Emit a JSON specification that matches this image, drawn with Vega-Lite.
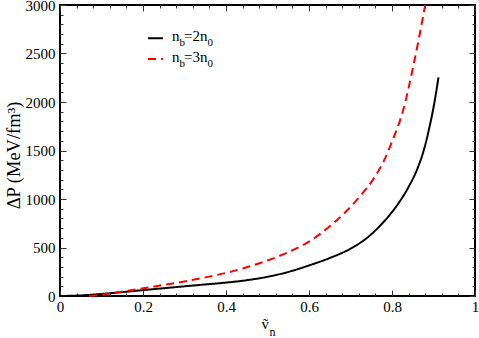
{
  "$schema": "https://vega.github.io/schema/vega-lite/v6.json",
  "width": 415,
  "height": 291,
  "autosize": {"type": "none"},
  "padding": {"left": 60, "top": 5, "right": 4, "bottom": 42},
  "background": "white",
  "config": {
    "font": "Times New Roman, Liberation Serif, DejaVu Serif, serif",
    "view": {"stroke": "black", "strokeWidth": 2},
    "text": {"font": "Times New Roman, Liberation Serif, DejaVu Serif, serif"},
    "axis": {"domain": false, "grid": false, "tickColor": "#333", "tickWidth": 1, "labelFont": "Times New Roman, Liberation Serif, DejaVu Serif, serif", "labelFontSize": 15, "labelColor": "black", "titleFont": "Times New Roman, Liberation Serif, DejaVu Serif, serif", "titleColor": "black", "titleFontWeight": "normal", "labelFlush": false, "labelOverlap": false}
  },
  "datasets": {
    "curves": [
      {"v": 0.0, "dP": 0, "series": "2n0"},
      {"v": 0.05, "dP": 6, "series": "2n0"},
      {"v": 0.1, "dP": 21, "series": "2n0"},
      {"v": 0.15, "dP": 40, "series": "2n0"},
      {"v": 0.2, "dP": 61, "series": "2n0"},
      {"v": 0.25, "dP": 80, "series": "2n0"},
      {"v": 0.3, "dP": 100, "series": "2n0"},
      {"v": 0.35, "dP": 119, "series": "2n0"},
      {"v": 0.4, "dP": 138, "series": "2n0"},
      {"v": 0.45, "dP": 163, "series": "2n0"},
      {"v": 0.5, "dP": 198, "series": "2n0"},
      {"v": 0.55, "dP": 248, "series": "2n0"},
      {"v": 0.6, "dP": 315, "series": "2n0"},
      {"v": 0.65, "dP": 392, "series": "2n0"},
      {"v": 0.7, "dP": 488, "series": "2n0"},
      {"v": 0.74, "dP": 600, "series": "2n0"},
      {"v": 0.78, "dP": 765, "series": "2n0"},
      {"v": 0.81, "dP": 922, "series": "2n0"},
      {"v": 0.84, "dP": 1125, "series": "2n0"},
      {"v": 0.86, "dP": 1300, "series": "2n0"},
      {"v": 0.875, "dP": 1480, "series": "2n0"},
      {"v": 0.892, "dP": 1775, "series": "2n0"},
      {"v": 0.902, "dP": 1990, "series": "2n0"},
      {"v": 0.912, "dP": 2254, "series": "2n0"},
      {"v": 0.07, "dP": 0, "series": "3n0"},
      {"v": 0.1, "dP": 14, "series": "3n0"},
      {"v": 0.12, "dP": 26, "series": "3n0"},
      {"v": 0.15, "dP": 45, "series": "3n0"},
      {"v": 0.2, "dP": 79, "series": "3n0"},
      {"v": 0.25, "dP": 114, "series": "3n0"},
      {"v": 0.3, "dP": 150, "series": "3n0"},
      {"v": 0.35, "dP": 192, "series": "3n0"},
      {"v": 0.4, "dP": 238, "series": "3n0"},
      {"v": 0.45, "dP": 296, "series": "3n0"},
      {"v": 0.5, "dP": 366, "series": "3n0"},
      {"v": 0.55, "dP": 452, "series": "3n0"},
      {"v": 0.6, "dP": 560, "series": "3n0"},
      {"v": 0.627, "dP": 640, "series": "3n0"},
      {"v": 0.65, "dP": 718, "series": "3n0"},
      {"v": 0.675, "dP": 812, "series": "3n0"},
      {"v": 0.7, "dP": 918, "series": "3n0"},
      {"v": 0.723, "dP": 1030, "series": "3n0"},
      {"v": 0.755, "dP": 1205, "series": "3n0"},
      {"v": 0.78, "dP": 1390, "series": "3n0"},
      {"v": 0.8, "dP": 1590, "series": "3n0"},
      {"v": 0.827, "dP": 1918, "series": "3n0"},
      {"v": 0.851, "dP": 2364, "series": "3n0"},
      {"v": 0.865, "dP": 2660, "series": "3n0"},
      {"v": 0.88, "dP": 3000, "series": "3n0"}
    ],
    "legend": [
      {"series": "2n0", "x1": 0.212, "x2": 0.248, "y": 2657, "xt": 0.27, "m1": "n", "s1": "b", "m2": "=2n", "s2": "0"},
      {"series": "3n0", "x1": 0.212, "x2": 0.248, "y": 2443, "xt": 0.27, "m1": "n", "s1": "b", "m2": "=3n", "s2": "0"}
    ]
  },
  "resolve": {"axis": {"x": "independent", "y": "independent"}},
  "layer": [
    {
      "data": {"name": "curves"},
      "mark": {"type": "line", "strokeWidth": 2, "interpolate": "monotone"},
      "encoding": {
        "x": {"field": "v", "type": "quantitative", "scale": {"domain": [0, 1], "nice": false, "zero": false},
              "axis": {"orient": "bottom", "values": [0, 0.2, 0.4, 0.6, 0.8, 1], "format": ".2~f", "tickSize": -6, "labelPadding": 9, "title": "ṽ", "titleFontSize": 15, "titleX": 201, "titleY": 32, "titleAlign": "left", "titleBaseline": "alphabetic"}},
        "y": {"field": "dP", "type": "quantitative", "scale": {"domain": [0, 3000], "nice": false},
              "axis": {"orient": "left", "values": [0, 500, 1000, 1500, 2000, 2500, 3000], "format": "d", "tickSize": -6, "labelPadding": 11, "title": "ΔP (MeV/fm³)", "titleFontSize": 18.5, "titlePadding": 2, "titleY": 150}},
        "color": {"field": "series", "type": "nominal", "scale": {"domain": ["2n0", "3n0"], "range": ["black", "#ff0000"]}, "legend": null},
        "strokeDash": {"field": "series", "type": "nominal", "scale": {"domain": ["2n0", "3n0"], "range": [[1, 0], [8, 5]]}, "legend": null}
      }
    },
    {
      "data": {"name": "curves"},
      "mark": {"type": "point", "opacity": 0},
      "encoding": {
        "x": {"field": "v", "type": "quantitative",
              "axis": {"orient": "bottom", "values": [0.04, 0.08, 0.12, 0.16, 0.24, 0.28, 0.32, 0.36, 0.44, 0.48, 0.52, 0.56, 0.64, 0.68, 0.72, 0.76, 0.84, 0.88, 0.92, 0.96], "tickSize": -3, "labels": false, "title": "n", "titleFontSize": 12, "titleX": 209, "titleY": 39, "titleAlign": "left", "titleBaseline": "alphabetic"}},
        "y": {"field": "dP", "type": "quantitative",
              "axis": {"orient": "left", "values": [100, 200, 300, 400, 600, 700, 800, 900, 1100, 1200, 1300, 1400, 1600, 1700, 1800, 1900, 2100, 2200, 2300, 2400, 2600, 2700, 2800, 2900], "tickSize": -3, "labels": false, "title": null}}
      }
    },
    {
      "data": {"name": "curves"},
      "mark": {"type": "point", "opacity": 0},
      "encoding": {
        "x": {"field": "v", "type": "quantitative",
              "axis": {"orient": "top", "values": [0, 0.2, 0.4, 0.6, 0.8, 1], "tickSize": -6, "labels": false, "title": null}},
        "y": {"field": "dP", "type": "quantitative",
              "axis": {"orient": "right", "values": [0, 500, 1000, 1500, 2000, 2500, 3000], "tickSize": -6, "labels": false, "title": null}}
      }
    },
    {
      "data": {"name": "curves"},
      "mark": {"type": "point", "opacity": 0},
      "encoding": {
        "x": {"field": "v", "type": "quantitative",
              "axis": {"orient": "top", "values": [0.04, 0.08, 0.12, 0.16, 0.24, 0.28, 0.32, 0.36, 0.44, 0.48, 0.52, 0.56, 0.64, 0.68, 0.72, 0.76, 0.84, 0.88, 0.92, 0.96], "tickSize": -3, "labels": false, "title": null}},
        "y": {"field": "dP", "type": "quantitative",
              "axis": {"orient": "right", "values": [100, 200, 300, 400, 600, 700, 800, 900, 1100, 1200, 1300, 1400, 1600, 1700, 1800, 1900, 2100, 2200, 2300, 2400, 2600, 2700, 2800, 2900], "tickSize": -3, "labels": false, "title": null}}
      }
    },
    {
      "data": {"name": "legend"},
      "mark": {"type": "rule", "strokeWidth": 2},
      "encoding": {
        "x": {"field": "x1", "type": "quantitative", "axis": null},
        "x2": {"field": "x2"},
        "y": {"field": "y", "type": "quantitative", "axis": null},
        "color": {"field": "series", "type": "nominal", "legend": null},
        "strokeDash": {"field": "series", "type": "nominal", "legend": null}
      }
    },
    {
      "data": {"name": "legend"},
      "mark": {"type": "text", "fontSize": 15, "align": "left", "baseline": "alphabetic", "dy": 2.5, "color": "black"},
      "encoding": {
        "x": {"field": "xt", "type": "quantitative", "axis": null},
        "y": {"field": "y", "type": "quantitative", "axis": null},
        "text": {"field": "m1"}
      }
    },
    {
      "data": {"name": "legend"},
      "mark": {"type": "text", "fontSize": 11, "align": "left", "baseline": "alphabetic", "dx": 7.5, "dy": 8, "color": "black"},
      "encoding": {
        "x": {"field": "xt", "type": "quantitative", "axis": null},
        "y": {"field": "y", "type": "quantitative", "axis": null},
        "text": {"field": "s1"}
      }
    },
    {
      "data": {"name": "legend"},
      "mark": {"type": "text", "fontSize": 15, "align": "left", "baseline": "alphabetic", "dx": 12, "dy": 2.5, "color": "black"},
      "encoding": {
        "x": {"field": "xt", "type": "quantitative", "axis": null},
        "y": {"field": "y", "type": "quantitative", "axis": null},
        "text": {"field": "m2"}
      }
    },
    {
      "data": {"name": "legend"},
      "mark": {"type": "text", "fontSize": 11, "align": "left", "baseline": "alphabetic", "dx": 35.5, "dy": 8, "color": "black"},
      "encoding": {
        "x": {"field": "xt", "type": "quantitative", "axis": null},
        "y": {"field": "y", "type": "quantitative", "axis": null},
        "text": {"field": "s2"}
      }
    }
  ]
}
